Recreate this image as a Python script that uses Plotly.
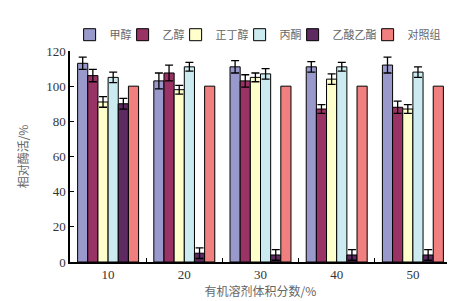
import plotly.graph_objects as go

categories = ["10", "20", "30", "40", "50"]
series_names = ["甲醇", "乙醇", "正丁醇", "丙酮", "乙酸乙酯", "对照组"]
methanol = [113, 103, 111, 111, 112]
ethanol = [106, 107.5, 103, 87, 88]
butanol = [91, 98, 105, 104, 87]
acetone = [105, 111, 107, 111, 108]
ethyl_acetate = [90, 5, 4, 4, 4]
control = [100, 100, 100, 100, 100]

methanol_err = [3.5, 4.5, 3.5, 3, 4.5]
ethanol_err = [3.5, 4.5, 3.5, 2.5, 3.5]
butanol_err = [3, 2.5, 2.5, 3, 2.5]
acetone_err = [3, 2.5, 3, 2.5, 3]
ethyl_acetate_err = [3, 3, 3, 3, 3]

values = [methanol, ethanol, butanol, acetone, ethyl_acetate, control]
errors = [methanol_err, ethanol_err, butanol_err, acetone_err, ethyl_acetate_err, None]
colors = ["#9999CC", "#993366", "#FFFFCC", "#CCEBF0", "#5E2A62", "#F08080"]

LEG_FONT = 11
fig = go.Figure()
for i, (name, vals, err, col) in enumerate(zip(series_names, values, errors, colors)):
    kw = {}
    if err is not None:
        kw["error_y"] = dict(type="data", array=err, visible=True,
                             color="black", thickness=1.3, width=4)
    last = i == len(series_names) - 1
    fig.add_trace(go.Bar(
        x=categories, y=vals, name=name,
        legendwidth=LEG_FONT * len(name) + (4 if last else -14),
        marker=dict(color=col, line=dict(color="black", width=1)),
        **kw))

font_serif = "Liberation Serif, Noto Sans CJK SC, serif"
fig.update_layout(
    barmode="group", bargap=0.2, bargroupgap=0,
    width=455, height=301,
    margin=dict(l=62, r=12, t=41, b=45),
    plot_bgcolor="white", paper_bgcolor="white",
    font=dict(family=font_serif, size=12, color="#333"),
    legend=dict(orientation="h", x=-0.001, xanchor="left", y=1.146, yanchor="top",
                font=dict(size=LEG_FONT, color="#666", family="Noto Sans CJK SC"),
                itemwidth=30, tracegroupgap=0, traceorder="normal"),
    showlegend=True,
)
fig.update_xaxes(
    type="category", range=[-0.5, 4.5],
    showline=True, linecolor="black", linewidth=1.5,
    ticks="inside", ticklen=4, tickson="boundaries", tickcolor="black",
    showgrid=False,
    title=dict(text="有机溶剂体积分数/%", font=dict(size=12, color="#666", family="Noto Sans CJK SC"), standoff=6),
    tickfont=dict(size=13, color="#333"),
)
fig.update_yaxes(
    range=[0, 120], dtick=20,
    showline=True, linecolor="black", linewidth=1.5,
    ticks="inside", ticklen=4, tickcolor="black",
    showgrid=False, zeroline=False,
    title=dict(text="相对酶活/%", font=dict(size=12, color="#666", family="Noto Sans CJK SC"), standoff=15),
    tickfont=dict(size=13, color="#333"),
)
fig.write_html("out.html")
